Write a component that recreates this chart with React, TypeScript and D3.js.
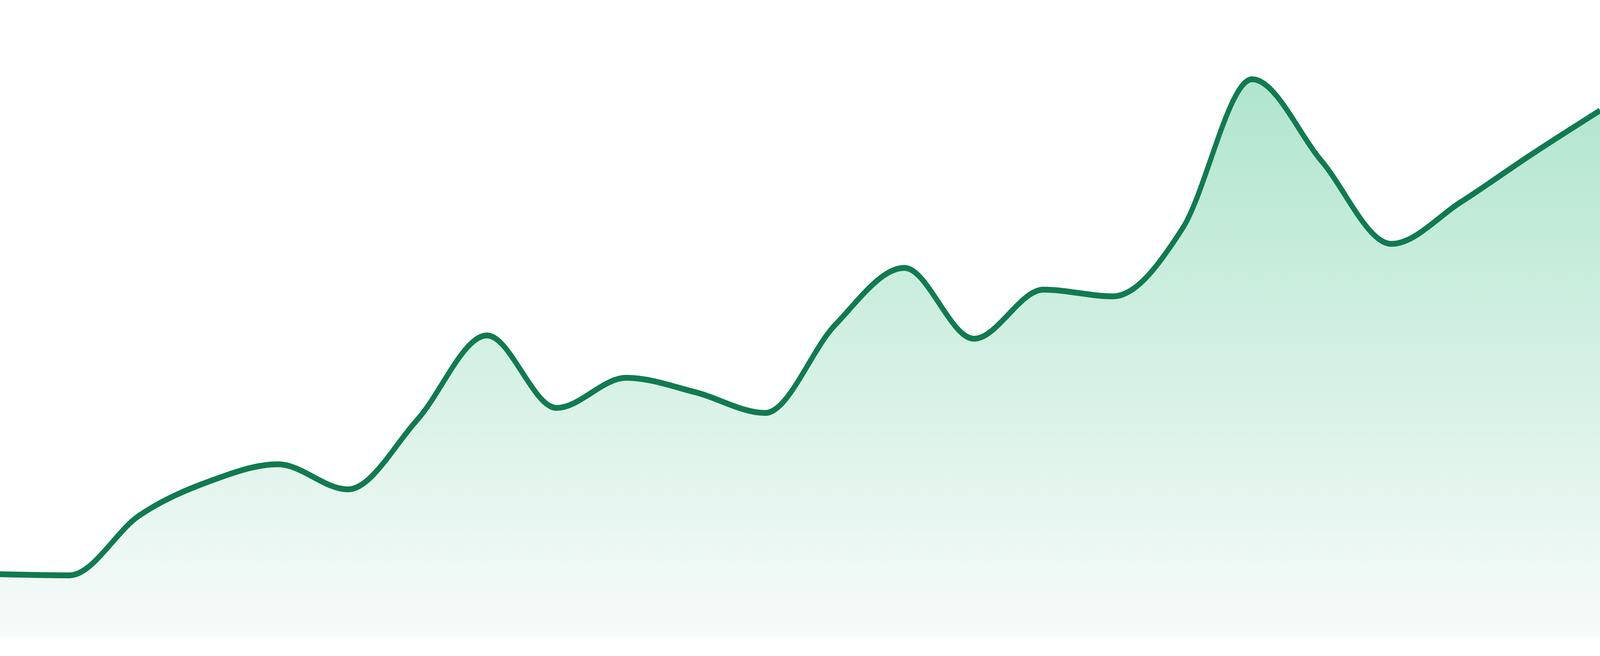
import { useEffect, useRef } from 'react';
import * as d3 from 'd3';

// 24 evenly spaced samples (arbitrary units, peak = 100)
const periods = d3.range(24).map((i) => `P${i + 1}`);
const values = [
  11.3, 11.1, 21.8, 27.9, 31.0, 26.5, 39.0, 54.1, 41.1, 46.5, 43.9, 40.2,
  55.9, 66.2, 53.5, 62.3, 61.1, 73.3, 100, 85.3, 70.5, 78.0, 86.4, 94.4,
];

const WIDTH = 4800;
const HEIGHT = 1680;
const MARGIN = { top: 203, right: 0, bottom: 48, left: 0 };
const LINE_COLOR = '#127a50';

export default function App() {
  const svgRef = useRef<SVGSVGElement>(null);

  useEffect(() => {
    if (!svgRef.current) return;
    const svg = d3.select(svgRef.current);
    svg.selectAll('*').remove();

    const x = d3
      .scalePoint<string>()
      .domain(periods)
      .range([MARGIN.left, WIDTH - MARGIN.right]);

    const y = d3
      .scaleLinear()
      .domain([0, d3.max(values)!])
      .range([HEIGHT - MARGIN.bottom, MARGIN.top]);

    const data = periods.map((p, i) => ({ p, v: values[i] }));

    // Fill gradient, strongest at the peak, fading to near white at the baseline
    const defs = svg.append('defs');
    const grad = defs
      .append('linearGradient')
      .attr('id', 'area-fill')
      .attr('gradientUnits', 'userSpaceOnUse')
      .attr('x1', 0)
      .attr('x2', 0)
      .attr('y1', y(d3.max(values)!))
      .attr('y2', y(0));
    grad.append('stop').attr('offset', '0%').attr('stop-color', '#b0e5ce');
    grad.append('stop').attr('offset', '100%').attr('stop-color', '#f7fbfa');

    const area = d3
      .area<{ p: string; v: number }>()
      .x((d) => x(d.p)!)
      .y0(y(0))
      .y1((d) => y(d.v))
      .curve(d3.curveMonotoneX);

    const line = d3
      .line<{ p: string; v: number }>()
      .x((d) => x(d.p)!)
      .y((d) => y(d.v))
      .curve(d3.curveMonotoneX);

    svg
      .append('path')
      .datum(data)
      .attr('d', area)
      .attr('fill', 'url(#area-fill)');

    svg
      .append('path')
      .datum(data)
      .attr('d', line)
      .attr('fill', 'none')
      .attr('stroke', LINE_COLOR)
      .attr('stroke-width', 15)
      .attr('stroke-linejoin', 'round');
  }, []);

  return (
    <svg
      ref={svgRef}
      viewBox={`0 0 ${WIDTH} ${HEIGHT}`}
      preserveAspectRatio="none"
      style={{
        position: 'fixed',
        left: 0,
        top: 0,
        width: '100vw',
        height: '100vh',
        display: 'block',
        background: '#fff',
      }}
    />
  );
}
